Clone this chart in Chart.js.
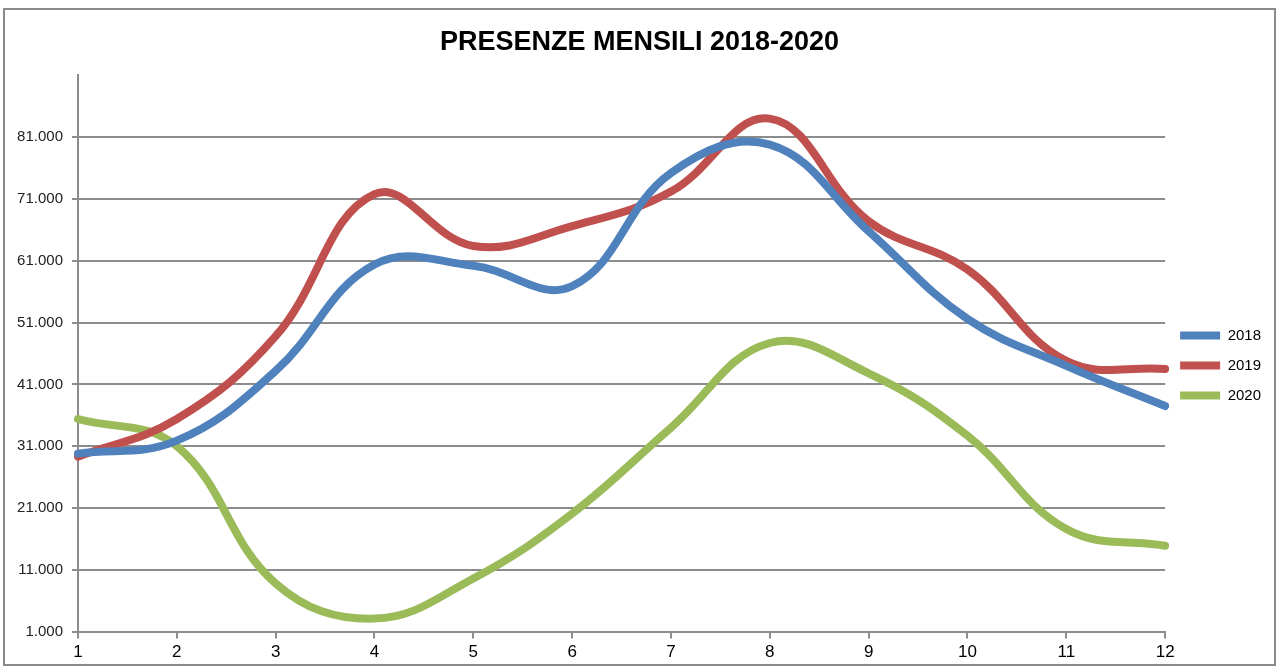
<!DOCTYPE html>
<html>
<head>
<meta charset="utf-8">
<script src="https://cdn.jsdelivr.net/npm/chart.js@4"></script>
<style>
  html, body { margin: 0; padding: 0; background: #fff; }
  #frame { position: absolute; left: 3px; top: 8px; width: 1273px; height: 658px; border: 2px solid #8a8a8a; box-sizing: border-box; }
  #wrap { position: absolute; left: 0; top: 0; width: 1284px; height: 670px; }
</style>
</head>
<body>
<div id="frame"></div>
<div id="wrap"><canvas id="chart"></canvas></div>
<script>
// data
const months = ['1','2','3','4','5','6','7','8','9','10','11','12'];
const pres2018 = [29800, 31900, 43200, 60400, 60200, 56900, 75200, 79800, 65800, 51600, 44000, 37500];
const pres2019 = [29300, 35400, 48800, 71800, 63400, 66600, 72200, 84000, 67400, 59600, 44800, 43500];
const pres2020 = [35400, 31000, 8800, 3100, 9600, 20100, 34000, 47700, 42800, 32700, 17600, 14900];

const seriesColors = ['#4F81BD', '#C0504D', '#9BBB59'];
const gridGray = '#8c8c8c';

function fmtIt(v) {
  return Math.round(v / 1000) + '.000';
}

function mkSet(label, data, color) {
  return {
    label, data,
    borderColor: color,
    backgroundColor: color,
    borderWidth: 8,
    tension: 0.4,
    pointRadius: 0,
    fill: false,
    borderCapStyle: 'round',
    borderJoinStyle: 'round'
  };
}

const ctx = document.getElementById('chart');
new Chart(ctx, {
  type: 'line',
  data: {
    labels: months,
    datasets: [
      mkSet('2018', pres2018, seriesColors[0]),
      mkSet('2019', pres2019, seriesColors[1]),
      mkSet('2020', pres2020, seriesColors[2])
    ]
  },
  options: {
    responsive: true,
    maintainAspectRatio: false,
    animation: false,
    layout: { padding: { left: 8, right: 13, top: 14, bottom: 3 } },
    plugins: {
      tooltip: { enabled: false },
      title: {
        display: true,
        text: 'PRESENZE MENSILI 2018-2020',
        color: '#000',
        font: { family: '"Liberation Sans Narrow", "Arial Narrow", "Liberation Sans", sans-serif', size: 27, weight: 'bold' },
        padding: { top: 12, bottom: 17 }
      },
      legend: {
        position: 'right',
        align: 'center',
        title: { display: true, text: ' ', padding: { top: 38, bottom: 0 }, font: { size: 10 } },
        labels: {
          color: '#000',
          font: { family: '"Liberation Sans", Arial, sans-serif', size: 15 },
          boxWidth: 40,
          boxHeight: 8,
          padding: 15,
          useBorderRadius: true,
          borderRadius: 4,
          generateLabels(chart) {
            return chart.data.datasets.map((ds, i) => ({
              text: ds.label,
              fillStyle: ds.borderColor,
              strokeStyle: ds.borderColor,
              lineWidth: 0,
              hidden: false,
              datasetIndex: i,
              fontColor: '#000'
            }));
          }
        }
      }
    },
    scales: {
      x: {
        type: 'category',
        offset: false,
        grid: {
          drawOnChartArea: false,
          drawTicks: true,
          tickLength: 7,
          color: gridGray,
          lineWidth: 2
        },
        border: { display: true, color: gridGray, width: 2 },
        ticks: {
          color: '#000',
          font: { family: '"Liberation Sans", Arial, sans-serif', size: 17 },
          padding: 4,
          maxRotation: 0,
          autoSkip: false
        }
      },
      y: {
        min: 1000,
        max: 91000,
        grid: {
          color: c => (c.tick && c.tick.value === 91000) ? 'rgba(0,0,0,0)' : gridGray,
          lineWidth: 2,
          tickLength: 6
        },
        border: { display: true, color: gridGray, width: 2 },
        ticks: {
          stepSize: 10000,
          color: '#222',
          font: { family: '"Liberation Sans", Arial, sans-serif', size: 15 },
          padding: 9,
          callback: v => v === 91000 ? '' : fmtIt(v)
        },
        afterFit(scale) { scale.width = 70; }
      }
    }
  }
});
</script>
</body>
</html>
